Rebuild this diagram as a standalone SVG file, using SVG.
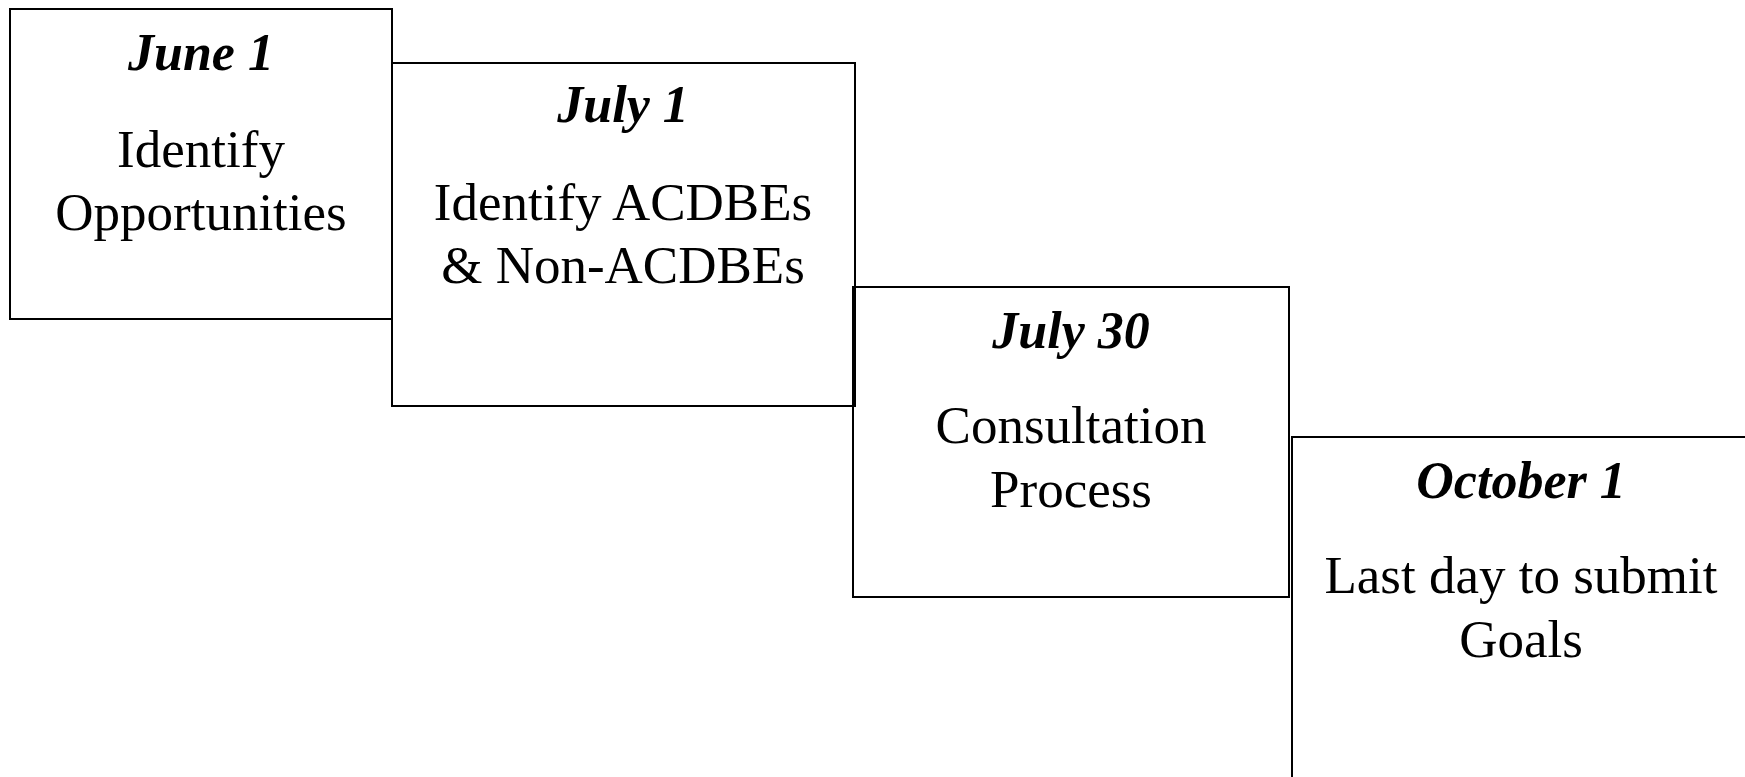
<svg xmlns="http://www.w3.org/2000/svg" width="1745" height="777" viewBox="0 0 1745 777">
<style>
.box{fill:none;stroke:#000;stroke-width:2}
.date{font-family:"Liberation Serif","Times New Roman",serif;font-weight:bold;font-style:italic;font-size:52px;text-anchor:middle;fill:#000}
.body{font-family:"Liberation Serif","Times New Roman",serif;font-size:53px;text-anchor:middle;fill:#000}
</style>
<rect width="1745" height="777" fill="#fff"/>
<g id="connectors"></g>
<g id="node-june1">
<rect class="box" x="10" y="9" width="382" height="310"/>
<text class="date" x="201" y="70">June 1</text>
<text class="body" x="201" y="167">Identify</text>
<text class="body" x="201" y="230">Opportunities</text>
</g>
<g id="node-july1">
<rect class="box" x="392" y="63" width="463" height="343"/>
<text class="date" x="623" y="122">July 1</text>
<text class="body" x="623" y="220">Identify ACDBEs</text>
<text class="body" x="623" y="283">&amp; Non-ACDBEs</text>
</g>
<g id="node-july30">
<rect class="box" x="853" y="287" width="436" height="310"/>
<text class="date" x="1071" y="348">July 30</text>
<text class="body" x="1071" y="443">Consultation</text>
<text class="body" x="1071" y="507">Process</text>
</g>
<g id="node-oct1">
<rect class="box" x="1292" y="437" width="460" height="360"/>
<text class="date" x="1521" y="498">October 1</text>
<text class="body" x="1521" y="593">Last day to submit</text>
<text class="body" x="1521" y="657">Goals</text>
</g>
</svg>
